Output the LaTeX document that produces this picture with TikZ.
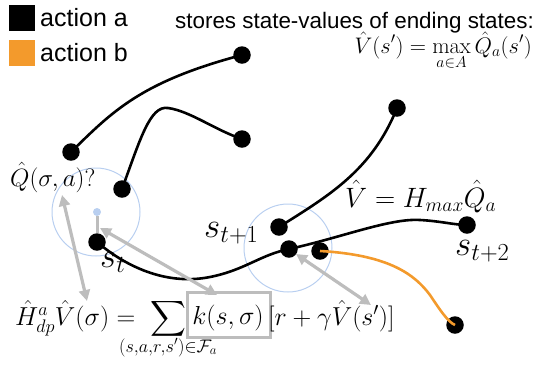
\RequirePackage{fix-cm}
\documentclass[tikz,border=0pt]{standalone}
\usepackage{amsmath}
\usepackage{fontspec}
\setsansfont{Liberation Sans}
\usetikzlibrary{arrows.meta}
\definecolor{orangeb}{HTML}{F39A2C}
\definecolor{grayarr}{HTML}{BDBDBD}
\definecolor{lblue}{HTML}{B9CFF0}
\tikzset{
  dot/.style={circle,fill=black,inner sep=0pt,minimum size=17.5pt},
  bdot/.style={circle,fill=lblue,inner sep=0pt,minimum size=8pt},
  traj/.style={line width=2.6pt,black},
  trajb/.style={line width=2.6pt,orangeb},
  garr/.style={line width=3.2pt,grayarr,{Triangle[length=11pt,width=11pt]}-{Triangle[length=11pt,width=11pt]}},
  ring/.style={draw=lblue,line width=1pt,circle,minimum size=88pt,inner sep=0pt},
  legtxt/.style={font=\sffamily\fontsize{25}{28}\selectfont,anchor=base west,inner sep=0pt},
  mth/.style={font=\fontsize{26}{30}\selectfont,inner sep=0pt},
  slab/.style={font=\fontsize{35}{40}\selectfont,inner sep=0pt,anchor=base west},
}
\begin{document}
\begin{tikzpicture}[x=1pt,y=-1pt]
\useasboundingbox (0,0) rectangle (538,365);
% legend
\node[fill=black,minimum size=26pt,inner sep=0pt] (la) at (22,18) {};
\node[fill=orangeb,minimum size=26pt,inner sep=0pt] (lb) at (22,53) {};
\node[legtxt] (lat) at (40,26) {action a};
\node[legtxt] (lbt) at (40,61) {action b};
\node[font=\sffamily\fontsize{22.4}{26}\selectfont,anchor=base west,inner sep=0pt] (st) at (175,28) {stores state-values of ending states:};
\node[font=\fontsize{22.5}{26}\selectfont,anchor=base east,inner sep=0pt] (vf) at (532,53) {$\displaystyle \hat V(s') = \max_{a\in A}\hat Q_a(s')$};
% circles
\node[ring] (c1) at (96,212) {};
\node[ring] (c2) at (288,248) {};
\node[bdot] (sig) at (97,212) {};
% dots
\node[dot] (d1a) at (71,152) {};
\node[dot] (d1b) at (242,55) {};
\node[dot] (d2a) at (122,189) {};
\node[dot] (d2b) at (242,139) {};
\node[dot] (d3a) at (279,227) {};
\node[dot] (d3b) at (397,108) {};
\node[dot] (s0) at (97,242) {};
\node[dot] (s1) at (289,249) {};
\node[dot] (s2) at (467,225) {};
\node[dot] (o1) at (320,251) {};
\node[dot] (o2) at (455,325) {};
% trajectories
\draw[traj] (d1a.center) .. controls (112,112) and (140,82) .. (d1b.center);
\draw[traj] (d2a.center) .. controls (140,140) and (150,105) .. (168,108) .. controls (190,111) and (215,130) .. (d2b.center);
\draw[traj] (d3a.center) .. controls (330,195) and (372,170) .. (d3b.center);
\draw[traj] (s0.center) .. controls (130,270) and (170,285) .. (210,277) .. controls (245,270) and (260,255) .. (s1.center) .. controls (340,238) and (390,218) .. (420,220) .. controls (440,221) and (455,225) .. (s2.center);
\draw[trajb] (o1.center) .. controls (390,255) and (415,275) .. (430,295) .. controls (440,310) and (448,322) .. (o2.center);
\draw[line width=3pt,grayarr] (sig) -- (s0);
% labels
\node[font=\fontsize{25}{30}\selectfont,inner sep=0pt,anchor=base west] (qlab) at (10,186) {$\hat Q(\sigma,a)?$};
\node[slab] (stl) at (100,267) {$s_t$};
\node[slab] (s1l) at (204,237) {$s_{t+1}$};
\node[slab] (s2l) at (455,255) {$s_{t+2}$};
\node[font=\fontsize{28}{32}\selectfont,inner sep=0pt,anchor=base west] (vh) at (345,207) {$\hat V = H_{max}\hat Q_a$};
% bottom formula
\node[mth,anchor=base west] (hl) at (15,325) {$\hat H^a_{dp}\hat V(\sigma) =$};
\node[font=\fontsize{23}{28}\selectfont,inner sep=0pt] (sum) at (168,319) {$\displaystyle\sum$};
\node[mth,anchor=base] (lim) at (168,352) {$\scriptstyle (s,a,r,s')\in\mathcal{F}_a$};
\node[draw=grayarr,line width=3pt,minimum width=83pt,minimum height=45pt,inner sep=0pt] (kb) at (229,315) {};
\node[mth,anchor=base] (kt) at (228,324) {$k(s,\sigma)$};
\node[mth,anchor=base west] (br) at (268,325) {$[r+\gamma\hat V(s')]$};
% gray arrows
\coordinate (qa) at (62,195);
\coordinate (ha) at (87,301);
\coordinate (sa) at (100,228);
\coordinate (ka) at (217,295);
\coordinate (s1a) at (296,254);
\coordinate (va) at (371,305);
\draw[garr] (qa) -- (ha);
\draw[garr] (sa) -- (ka);
\draw[garr] (s1a) -- (va);
\end{tikzpicture}
\end{document}
